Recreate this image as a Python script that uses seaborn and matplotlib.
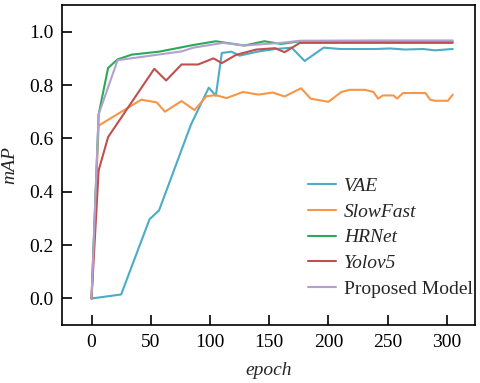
import numpy as np
import pandas as pd
import matplotlib
matplotlib.use("Agg")
import matplotlib.pyplot as plt
import seaborn as sns

models = ["VAE", "SlowFast", "HRNet", "Yolov5", "Proposed Model"]

vae_x = [0, 25, 49, 57, 84, 99, 105, 110, 118, 125, 140, 155, 169, 180, 196, 210, 225, 240, 252, 265, 280, 290, 305]
vae_y = [0.0, 0.015, 0.297, 0.33, 0.652, 0.79, 0.76, 0.92, 0.925, 0.91, 0.925, 0.935, 0.94, 0.89, 0.94, 0.935, 0.935, 0.935, 0.937, 0.933, 0.935, 0.93, 0.935]

slowfast_x = [0, 6, 42, 55, 62, 76, 87, 97, 105, 114, 128, 141, 153, 163, 177, 185, 200, 211, 218, 231, 238, 242, 246, 255, 258, 263, 282, 286, 290, 301, 305]
slowfast_y = [0.0, 0.648, 0.745, 0.735, 0.70, 0.74, 0.706, 0.758, 0.762, 0.751, 0.774, 0.764, 0.772, 0.757, 0.788, 0.749, 0.737, 0.774, 0.782, 0.782, 0.774, 0.749, 0.761, 0.761, 0.749, 0.77, 0.77, 0.745, 0.741, 0.741, 0.764]

hrnet_x = [0, 6, 14, 22, 34, 57, 86, 105, 129, 146, 160, 176, 200, 250, 305]
hrnet_y = [0.0, 0.69, 0.864, 0.896, 0.914, 0.925, 0.95, 0.964, 0.948, 0.964, 0.954, 0.964, 0.963, 0.963, 0.962]

yolo_x = [0, 6, 14, 53, 63, 76, 90, 103, 110, 122, 139, 155, 163, 176, 240, 305]
yolo_y = [0.0, 0.48, 0.605, 0.861, 0.817, 0.877, 0.877, 0.90, 0.882, 0.913, 0.933, 0.938, 0.923, 0.958, 0.958, 0.958]

prop_x = [0, 6, 22, 76, 86, 111, 129, 160, 176, 240, 305]
prop_y = [0.0, 0.69, 0.893, 0.926, 0.94, 0.958, 0.948, 0.958, 0.966, 0.967, 0.967]

colors = ["#4BACC6", "#F79646", "#2AAA58", "#C0504D", "#B4A0D0"]

series = [(vae_x, vae_y), (slowfast_x, slowfast_y), (hrnet_x, hrnet_y), (yolo_x, yolo_y), (prop_x, prop_y)]
frames = []
for name, (xs, ys) in zip(models, series):
    frames.append(pd.DataFrame({"epoch": xs, "mAP": ys, "model": name}))
df = pd.concat(frames, ignore_index=True)

sns.set_style("ticks")
plt.rcParams["font.family"] = ["Liberation Serif", "DejaVu Serif"]

fig = plt.figure(figsize=(4.8, 3.83), dpi=100)
ax = fig.add_axes([0.129, 0.151, 0.861, 0.836])

sns.lineplot(data=df, x="epoch", y="mAP", hue="model", hue_order=models,
             palette=dict(zip(models, colors)), estimator=None, sort=False,
             linewidth=1.5, ax=ax)

ax.set_xlim(-25, 324)
ax.set_ylim(-0.1, 1.1)
ax.set_xticks([0, 50, 100, 150, 200, 250, 300])
ax.set_yticks([0.0, 0.2, 0.4, 0.6, 0.8, 1.0])
ax.set_yticklabels(["0.0", "0.2", "0.4", "0.6", "0.8", "1.0"])
ax.tick_params(direction="in", length=7, width=1.2, labelsize=14, colors="black", pad=6)
for s in ax.spines.values():
    s.set_linewidth(1.2)
    s.set_color("black")
ax.set_xlabel("epoch", fontsize=14, fontstyle="italic", labelpad=8)
ax.set_ylabel("mAP", fontsize=14, fontstyle="italic", labelpad=8)

handles, labels = ax.get_legend_handles_labels()
leg = ax.legend(handles, labels, loc="lower right", frameon=False, fontsize=14,
                handlelength=1.4, handletextpad=0.45, labelspacing=0.42,
                borderpad=0, borderaxespad=0, bbox_to_anchor=(0.995, 0.085))
for t in leg.get_texts():
    if t.get_text() != "Proposed Model":
        t.set_fontstyle("italic")

fig.savefig("out.png", dpi=100, facecolor="white")
